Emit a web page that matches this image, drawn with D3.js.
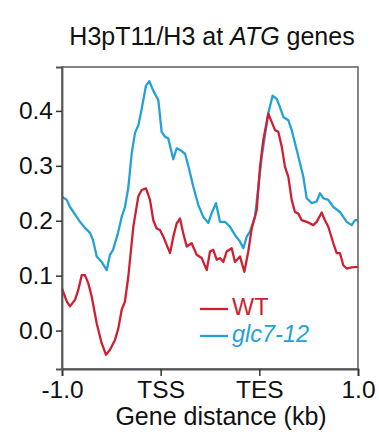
<!DOCTYPE html>
<html>
<head>
<meta charset="utf-8">
<script src="https://cdn.jsdelivr.net/npm/d3@7"></script>
<style>
  html, body { margin: 0; padding: 0; background: #fff; }
  svg { display: block; font-family: "Liberation Sans", Arial, sans-serif; }
</style>
</head>
<body>
<div id="chart"></div>
<script>
// metagene position: 0 = -1.0 kb, 1 = TSS, 2 = TES, 3 = +1.0 kb
var tickPos = [0, 1, 2, 3];
var tickLabels = ["-1.0", "TSS", "TES", "1.0"];
var yTicks = [0.0, 0.1, 0.2, 0.3, 0.4];

var wtX = [0.000, 0.048, 0.081, 0.132, 0.165, 0.200, 0.233, 0.267, 0.301, 0.352,
           0.402, 0.446, 0.486, 0.537, 0.571, 0.605, 0.638, 0.672, 0.706, 0.723,
           0.773, 0.808, 0.851, 0.892, 0.925, 0.960, 0.993, 1.027, 1.061, 1.095,
           1.128, 1.162, 1.196, 1.229, 1.264, 1.314, 1.365, 1.416, 1.467, 1.500,
           1.533, 1.568, 1.601, 1.635, 1.669, 1.720, 1.753, 1.804, 1.848, 1.888,
           1.923, 1.973, 2.007, 2.040, 2.091, 2.125, 2.159, 2.192, 2.227, 2.260,
           2.294, 2.328, 2.361, 2.395, 2.429, 2.480, 2.547, 2.581, 2.632, 2.665,
           2.699, 2.750, 2.784, 2.817, 2.851, 2.885, 2.936, 3.000];
var wtY = [0.077, 0.053, 0.044, 0.056, 0.074, 0.101, 0.101, 0.086, 0.062, 0.013,
           -0.023, -0.044, -0.035, -0.017, 0.004, 0.038, 0.053, 0.098, 0.159, 0.189,
           0.244, 0.256, 0.259, 0.238, 0.201, 0.186, 0.183, 0.171, 0.156, 0.141,
           0.171, 0.195, 0.204, 0.177, 0.153, 0.159, 0.138, 0.132, 0.110, 0.144,
           0.147, 0.129, 0.132, 0.125, 0.144, 0.150, 0.125, 0.135, 0.107, 0.144,
           0.186, 0.219, 0.298, 0.347, 0.395, 0.380, 0.365, 0.362, 0.335, 0.298,
           0.280, 0.238, 0.216, 0.213, 0.201, 0.198, 0.192, 0.198, 0.215, 0.201,
           0.189, 0.159, 0.141, 0.141, 0.119, 0.113, 0.115, 0.116];

var glcX = [0.000, 0.048, 0.081, 0.149, 0.182, 0.233, 0.284, 0.314, 0.352, 0.402,
            0.453, 0.486, 0.517, 0.568, 0.605, 0.638, 0.672, 0.706, 0.740, 0.774,
            0.808, 0.851, 0.885, 0.925, 0.976, 1.010, 1.044, 1.077, 1.128, 1.162,
            1.196, 1.247, 1.280, 1.331, 1.381, 1.432, 1.483, 1.517, 1.561, 1.601,
            1.652, 1.703, 1.753, 1.804, 1.838, 1.872, 1.905, 1.956, 2.024, 2.091,
            2.135, 2.176, 2.209, 2.243, 2.294, 2.328, 2.379, 2.446, 2.480, 2.531,
            2.581, 2.615, 2.648, 2.699, 2.750, 2.817, 2.885, 2.936, 2.970, 3.000];
var glcY = [0.244, 0.238, 0.225, 0.207, 0.198, 0.187, 0.178, 0.165, 0.135, 0.125,
            0.110, 0.138, 0.147, 0.178, 0.207, 0.225, 0.260, 0.322, 0.360, 0.374,
            0.404, 0.446, 0.454, 0.437, 0.420, 0.362, 0.353, 0.350, 0.312, 0.332,
            0.329, 0.322, 0.300, 0.262, 0.229, 0.207, 0.196, 0.214, 0.232, 0.198,
            0.198, 0.189, 0.174, 0.162, 0.150, 0.171, 0.180, 0.207, 0.316, 0.396,
            0.428, 0.422, 0.407, 0.389, 0.383, 0.365, 0.329, 0.280, 0.241, 0.232,
            0.235, 0.250, 0.241, 0.238, 0.225, 0.216, 0.198, 0.192, 0.201, 0.201];

var seriesNames = ["WT", "glc7-12"];
var seriesColors = ["#d01f31", "#24a2d6"];

var iWidth = 379, iHeight = 443;
var oMargin = { iLeft: 62, iRight: 21, iTop: 67, iBottom: 74 };
var iPlotW = iWidth - oMargin.iLeft - oMargin.iRight;
var iPlotH = iHeight - oMargin.iTop - oMargin.iBottom;

var dSVG = d3.select("#chart").append("svg")
    .attr("width", iWidth)
    .attr("height", iHeight);

var x = d3.scaleLinear().domain([0, 3]).range([oMargin.iLeft, oMargin.iLeft + iPlotW]);
var y = d3.scaleLinear().domain([-0.07, 0.48]).range([oMargin.iTop + iPlotH, oMargin.iTop]);

// title
dSVG.append("text")
    .attr("x", 212)
    .attr("y", 44.5)
    .attr("text-anchor", "middle")
    .style("font-size", "25px")
    .style("fill", "#111")
    .call(function(t) {
        t.append("tspan").text("H3pT11/H3 at ");
        t.append("tspan").style("font-style", "italic").text("ATG");
        t.append("tspan").text(" genes");
    });

// lines
var line = d3.line().x(function(d) { return x(d[0]); }).y(function(d) { return y(d[1]); });
var aSeries = [d3.zip(glcX, glcY), d3.zip(wtX, wtY)];
var aColors = [seriesColors[1], seriesColors[0]];

var dLines = dSVG.append("g");
aSeries.forEach(function(aData, i) {
    dLines.append("path")
        .datum(aData)
        .attr("d", line)
        .style("fill", "none")
        .style("stroke", aColors[i])
        .style("stroke-width", 2.3)
        .style("stroke-linejoin", "round");
});

// frame
dSVG.append("rect")
    .attr("x", oMargin.iLeft)
    .attr("y", oMargin.iTop)
    .attr("width", iPlotW)
    .attr("height", iPlotH)
    .style("fill", "none")
    .style("stroke", "#666")
    .style("stroke-width", 1.6);

// axes
var xAxis = d3.axisBottom(x).tickValues(tickPos)
    .tickFormat(function(d, i) { return tickLabels[i]; })
    .tickSize(7).tickPadding(5);
var yAxis = d3.axisLeft(y).tickValues(yTicks)
    .tickFormat(d3.format(".1f"))
    .tickSize(6).tickPadding(3);

var dX = dSVG.append("g")
    .attr("transform", "translate(0," + (oMargin.iTop + iPlotH) + ")")
    .call(xAxis);
var dY = dSVG.append("g")
    .attr("transform", "translate(" + oMargin.iLeft + ",0)")
    .call(yAxis);

[dX, dY].forEach(function(g) {
    g.select(".domain").style("stroke", "#555").style("stroke-width", 1.8);
    g.selectAll(".tick line").style("stroke", "#333").style("stroke-width", 1.5);
    g.selectAll(".tick text")
        .style("font-size", "24.5px")
        .style("fill", "#111")
        .style("font-family", "'Liberation Sans', Arial, sans-serif");
});

// axis label
dSVG.append("text")
    .attr("x", 221)
    .attr("y", 425)
    .attr("text-anchor", "middle")
    .style("font-size", "25px")
    .style("fill", "#111")
    .text("Gene distance (kb)");

// legend
var aLegY = [309, 336];
seriesNames.forEach(function(sName, i) {
    var dLeg = dSVG.append("g");
    dLeg.append("line")
        .attr("x1", 200).attr("x2", 228)
        .attr("y1", aLegY[i]).attr("y2", aLegY[i])
        .style("stroke", seriesColors[i])
        .style("stroke-width", 2.3);
    dLeg.append("text")
        .attr("x", 232)
        .attr("y", aLegY[i] + 6)
        .style("font-size", "23.5px")
        .style("font-style", i === 1 ? "italic" : "normal")
        .style("fill", seriesColors[i])
        .text(sName);
});
</script>
</body>
</html>
